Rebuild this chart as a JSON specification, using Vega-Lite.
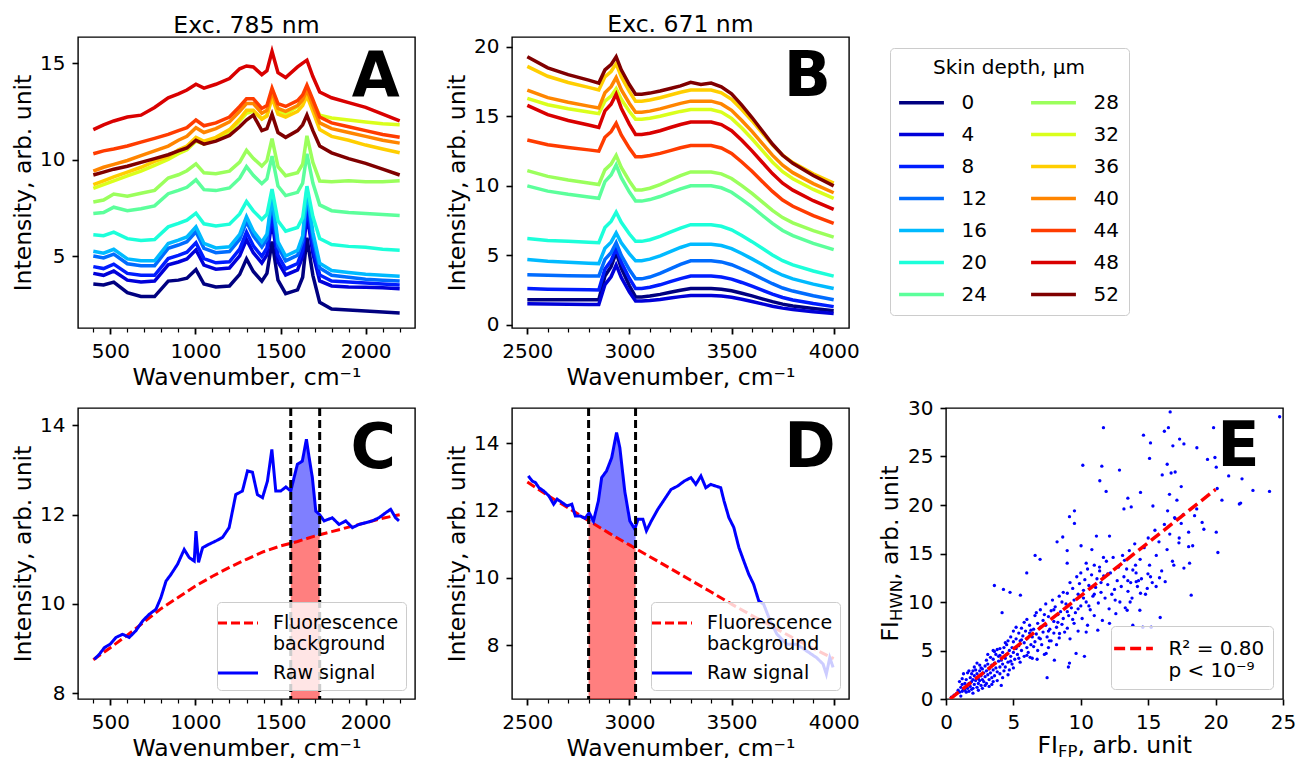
{
"$schema":"https://vega.github.io/schema/vega-lite/v6.json",
"background":"white",
"padding":{"left":10,"top":12,"right":5,"bottom":0},
"config":{
 "font":"DejaVu Sans",
 "view":{"stroke":"black","strokeWidth":1.4},
 "axis":{"labelFont":"DejaVu Sans","labelFontSize":20,"titleFont":"DejaVu Sans","titleFontSize":23.5,"titleFontWeight":"normal","labelColor":"black","titleColor":"black","tickColor":"black","tickSize":5,"tickWidth":1.3,"domain":false,"grid":false,"labelPadding":7,"titlePadding":4.5,"labelOverlap":false,"labelFlush":false},
 "legend":{"labelFont":"DejaVu Sans","titleFont":"DejaVu Sans","labelColor":"black","titleColor":"black"},
 "title":{"font":"DejaVu Sans","fontSize":23.5,"fontWeight":"normal","color":"black"}
},
"datasets":{
"A":[
{"d":0,"x":400,"y":3.55},{"d":0,"x":460,"y":3.5},{"d":0,"x":520,"y":3.65},{"d":0,"x":600,"y":3.1},{"d":0,"x":680,"y":2.9},{"d":0,"x":760,"y":2.9},{"d":0,"x":840,"y":3.7},{"d":0,"x":900,"y":3.75},{"d":0,"x":950,"y":3.85},{"d":0,"x":1003,"y":4.3},{"d":0,"x":1050,"y":3.55},{"d":0,"x":1120,"y":3.4},{"d":0,"x":1200,"y":3.45},{"d":0,"x":1260,"y":4.05},{"d":0,"x":1300,"y":4.85},{"d":0,"x":1340,"y":4.2},{"d":0,"x":1390,"y":3.7},{"d":0,"x":1420,"y":4.1},{"d":0,"x":1450,"y":5.75},{"d":0,"x":1485,"y":3.75},{"d":0,"x":1530,"y":3.05},{"d":0,"x":1600,"y":3.25},{"d":0,"x":1630,"y":3.9},{"d":0,"x":1655,"y":5.95},{"d":0,"x":1690,"y":4.0},{"d":0,"x":1730,"y":2.6},{"d":0,"x":1800,"y":2.25},{"d":0,"x":1900,"y":2.2},{"d":0,"x":2000,"y":2.15},{"d":0,"x":2100,"y":2.1},{"d":0,"x":2200,"y":2.05},
{"d":4,"x":400,"y":4.1},{"d":4,"x":460,"y":4.0},{"d":4,"x":520,"y":4.22},{"d":4,"x":600,"y":3.75},{"d":4,"x":680,"y":3.65},{"d":4,"x":760,"y":3.7},{"d":4,"x":840,"y":4.54},{"d":4,"x":900,"y":4.69},{"d":4,"x":950,"y":4.85},{"d":4,"x":1003,"y":5.32},{"d":4,"x":1050,"y":4.53},{"d":4,"x":1120,"y":4.32},{"d":4,"x":1200,"y":4.38},{"d":4,"x":1260,"y":5.01},{"d":4,"x":1300,"y":5.85},{"d":4,"x":1340,"y":5.17},{"d":4,"x":1390,"y":4.64},{"d":4,"x":1420,"y":5.06},{"d":4,"x":1450,"y":6.8},{"d":4,"x":1485,"y":4.7},{"d":4,"x":1530,"y":4.02},{"d":4,"x":1600,"y":4.28},{"d":4,"x":1630,"y":4.97},{"d":4,"x":1655,"y":7.17},{"d":4,"x":1690,"y":5.13},{"d":4,"x":1730,"y":3.71},{"d":4,"x":1800,"y":3.45},{"d":4,"x":1900,"y":3.4},{"d":4,"x":2000,"y":3.38},{"d":4,"x":2100,"y":3.35},{"d":4,"x":2200,"y":3.3},
{"d":8,"x":400,"y":4.45},{"d":8,"x":460,"y":4.35},{"d":8,"x":520,"y":4.58},{"d":8,"x":600,"y":4.1},{"d":8,"x":680,"y":4.0},{"d":8,"x":760,"y":4.0},{"d":8,"x":840,"y":4.87},{"d":8,"x":900,"y":5.03},{"d":8,"x":950,"y":5.2},{"d":8,"x":1003,"y":5.69},{"d":8,"x":1050,"y":4.87},{"d":8,"x":1120,"y":4.65},{"d":8,"x":1200,"y":4.7},{"d":8,"x":1260,"y":5.36},{"d":8,"x":1300,"y":6.24},{"d":8,"x":1340,"y":5.53},{"d":8,"x":1390,"y":4.98},{"d":8,"x":1420,"y":5.42},{"d":8,"x":1450,"y":7.24},{"d":8,"x":1485,"y":5.04},{"d":8,"x":1530,"y":4.33},{"d":8,"x":1600,"y":4.61},{"d":8,"x":1630,"y":5.33},{"d":8,"x":1655,"y":7.64},{"d":8,"x":1690,"y":5.5},{"d":8,"x":1730,"y":4.02},{"d":8,"x":1800,"y":3.7},{"d":8,"x":1900,"y":3.65},{"d":8,"x":2000,"y":3.6},{"d":8,"x":2100,"y":3.55},{"d":8,"x":2200,"y":3.5},
{"d":12,"x":400,"y":5.0},{"d":12,"x":460,"y":4.9},{"d":12,"x":520,"y":5.1},{"d":12,"x":600,"y":4.6},{"d":12,"x":680,"y":4.5},{"d":12,"x":760,"y":4.5},{"d":12,"x":840,"y":5.4},{"d":12,"x":900,"y":5.57},{"d":12,"x":950,"y":5.74},{"d":12,"x":1003,"y":6.26},{"d":12,"x":1050,"y":5.4},{"d":12,"x":1120,"y":5.17},{"d":12,"x":1200,"y":5.23},{"d":12,"x":1260,"y":5.87},{"d":12,"x":1300,"y":6.79},{"d":12,"x":1340,"y":6.05},{"d":12,"x":1390,"y":5.47},{"d":12,"x":1420,"y":5.88},{"d":12,"x":1450,"y":7.84},{"d":12,"x":1485,"y":5.49},{"d":12,"x":1530,"y":4.75},{"d":12,"x":1600,"y":5.04},{"d":12,"x":1630,"y":5.8},{"d":12,"x":1655,"y":8.21},{"d":12,"x":1690,"y":5.98},{"d":12,"x":1730,"y":4.38},{"d":12,"x":1800,"y":4.0},{"d":12,"x":1900,"y":3.9},{"d":12,"x":2000,"y":3.8},{"d":12,"x":2100,"y":3.75},{"d":12,"x":2200,"y":3.7},
{"d":16,"x":400,"y":5.25},{"d":16,"x":460,"y":5.15},{"d":16,"x":520,"y":5.35},{"d":16,"x":600,"y":4.85},{"d":16,"x":680,"y":4.75},{"d":16,"x":760,"y":4.75},{"d":16,"x":840,"y":5.65},{"d":16,"x":900,"y":5.82},{"d":16,"x":950,"y":5.99},{"d":16,"x":1003,"y":6.51},{"d":16,"x":1050,"y":5.65},{"d":16,"x":1120,"y":5.42},{"d":16,"x":1200,"y":5.48},{"d":16,"x":1260,"y":6.12},{"d":16,"x":1300,"y":7.04},{"d":16,"x":1340,"y":6.3},{"d":16,"x":1390,"y":5.72},{"d":16,"x":1420,"y":6.13},{"d":16,"x":1450,"y":8.09},{"d":16,"x":1485,"y":5.74},{"d":16,"x":1530,"y":5.0},{"d":16,"x":1600,"y":5.29},{"d":16,"x":1630,"y":6.05},{"d":16,"x":1655,"y":8.46},{"d":16,"x":1690,"y":6.23},{"d":16,"x":1730,"y":4.63},{"d":16,"x":1800,"y":4.25},{"d":16,"x":1900,"y":4.15},{"d":16,"x":2000,"y":4.05},{"d":16,"x":2100,"y":4.0},{"d":16,"x":2200,"y":3.95},
{"d":20,"x":400,"y":6.1},{"d":20,"x":460,"y":6.05},{"d":20,"x":520,"y":6.24},{"d":20,"x":600,"y":5.9},{"d":20,"x":680,"y":5.8},{"d":20,"x":760,"y":5.85},{"d":20,"x":840,"y":6.51},{"d":20,"x":900,"y":6.69},{"d":20,"x":950,"y":6.86},{"d":20,"x":1003,"y":7.22},{"d":20,"x":1050,"y":6.67},{"d":20,"x":1120,"y":6.56},{"d":20,"x":1200,"y":6.65},{"d":20,"x":1260,"y":7.18},{"d":20,"x":1300,"y":7.82},{"d":20,"x":1340,"y":7.34},{"d":20,"x":1390,"y":6.89},{"d":20,"x":1420,"y":7.16},{"d":20,"x":1450,"y":8.47},{"d":20,"x":1485,"y":6.82},{"d":20,"x":1530,"y":6.29},{"d":20,"x":1600,"y":6.48},{"d":20,"x":1630,"y":6.99},{"d":20,"x":1655,"y":8.62},{"d":20,"x":1690,"y":7.05},{"d":20,"x":1730,"y":5.91},{"d":20,"x":1800,"y":5.6},{"d":20,"x":1900,"y":5.5},{"d":20,"x":2000,"y":5.45},{"d":20,"x":2100,"y":5.35},{"d":20,"x":2200,"y":5.3},
{"d":24,"x":400,"y":7.2},{"d":24,"x":460,"y":7.25},{"d":24,"x":520,"y":7.53},{"d":24,"x":600,"y":7.35},{"d":24,"x":680,"y":7.45},{"d":24,"x":760,"y":7.6},{"d":24,"x":840,"y":8.23},{"d":24,"x":900,"y":8.4},{"d":24,"x":950,"y":8.56},{"d":24,"x":1003,"y":8.95},{"d":24,"x":1050,"y":8.44},{"d":24,"x":1120,"y":8.39},{"d":24,"x":1200,"y":8.53},{"d":24,"x":1260,"y":9.03},{"d":24,"x":1300,"y":9.63},{"d":24,"x":1340,"y":9.18},{"d":24,"x":1390,"y":8.75},{"d":24,"x":1420,"y":9.0},{"d":24,"x":1450,"y":10.18},{"d":24,"x":1485,"y":8.63},{"d":24,"x":1530,"y":8.13},{"d":24,"x":1600,"y":8.3},{"d":24,"x":1630,"y":8.78},{"d":24,"x":1655,"y":10.3},{"d":24,"x":1690,"y":8.78},{"d":24,"x":1730,"y":7.65},{"d":24,"x":1800,"y":7.35},{"d":24,"x":1900,"y":7.25},{"d":24,"x":2000,"y":7.2},{"d":24,"x":2100,"y":7.15},{"d":24,"x":2200,"y":7.1},
{"d":28,"x":400,"y":7.8},{"d":28,"x":460,"y":7.9},{"d":28,"x":520,"y":8.21},{"d":28,"x":600,"y":8.1},{"d":28,"x":680,"y":8.25},{"d":28,"x":760,"y":8.4},{"d":28,"x":840,"y":9.04},{"d":28,"x":900,"y":9.21},{"d":28,"x":950,"y":9.42},{"d":28,"x":1003,"y":9.78},{"d":28,"x":1050,"y":9.31},{"d":28,"x":1120,"y":9.27},{"d":28,"x":1200,"y":9.4},{"d":28,"x":1260,"y":9.87},{"d":28,"x":1300,"y":10.48},{"d":28,"x":1340,"y":10.06},{"d":28,"x":1390,"y":9.66},{"d":28,"x":1420,"y":9.94},{"d":28,"x":1450,"y":11.08},{"d":28,"x":1485,"y":9.63},{"d":28,"x":1530,"y":9.16},{"d":28,"x":1600,"y":9.32},{"d":28,"x":1630,"y":9.76},{"d":28,"x":1655,"y":11.23},{"d":28,"x":1690,"y":9.85},{"d":28,"x":1730,"y":8.89},{"d":28,"x":1800,"y":8.85},{"d":28,"x":1900,"y":8.9},{"d":28,"x":2000,"y":8.85},{"d":28,"x":2100,"y":8.85},{"d":28,"x":2200,"y":8.9},
{"d":32,"x":400,"y":8.5},{"d":32,"x":460,"y":8.7},{"d":32,"x":520,"y":8.9},{"d":32,"x":600,"y":9.15},{"d":32,"x":680,"y":9.4},{"d":32,"x":760,"y":9.7},{"d":32,"x":840,"y":10.0},{"d":32,"x":900,"y":10.3},{"d":32,"x":950,"y":10.5},{"d":32,"x":1003,"y":10.95},{"d":32,"x":1050,"y":10.8},{"d":32,"x":1120,"y":11.05},{"d":32,"x":1200,"y":11.45},{"d":32,"x":1260,"y":12.0},{"d":32,"x":1300,"y":12.4},{"d":32,"x":1340,"y":12.5},{"d":32,"x":1390,"y":12.1},{"d":32,"x":1420,"y":12.3},{"d":32,"x":1450,"y":13.3},{"d":32,"x":1485,"y":12.5},{"d":32,"x":1530,"y":12.35},{"d":32,"x":1600,"y":12.75},{"d":32,"x":1630,"y":13.1},{"d":32,"x":1655,"y":13.65},{"d":32,"x":1690,"y":13.0},{"d":32,"x":1730,"y":12.3},{"d":32,"x":1800,"y":12.15},{"d":32,"x":1900,"y":12.05},{"d":32,"x":2000,"y":11.95},{"d":32,"x":2100,"y":11.85},{"d":32,"x":2200,"y":11.8},
{"d":36,"x":400,"y":8.7},{"d":36,"x":460,"y":8.9},{"d":36,"x":520,"y":9.1},{"d":36,"x":600,"y":9.35},{"d":36,"x":680,"y":9.6},{"d":36,"x":760,"y":9.9},{"d":36,"x":840,"y":10.15},{"d":36,"x":900,"y":10.5},{"d":36,"x":950,"y":10.7},{"d":36,"x":1003,"y":11.15},{"d":36,"x":1050,"y":10.95},{"d":36,"x":1120,"y":11.15},{"d":36,"x":1200,"y":11.55},{"d":36,"x":1260,"y":12.1},{"d":36,"x":1300,"y":12.55},{"d":36,"x":1340,"y":12.55},{"d":36,"x":1390,"y":12.1},{"d":36,"x":1420,"y":12.25},{"d":36,"x":1450,"y":13.2},{"d":36,"x":1485,"y":12.35},{"d":36,"x":1530,"y":12.2},{"d":36,"x":1600,"y":12.5},{"d":36,"x":1630,"y":12.8},{"d":36,"x":1655,"y":13.3},{"d":36,"x":1690,"y":12.5},{"d":36,"x":1730,"y":11.55},{"d":36,"x":1800,"y":11.2},{"d":36,"x":1900,"y":11.0},{"d":36,"x":2000,"y":10.75},{"d":36,"x":2100,"y":10.55},{"d":36,"x":2200,"y":10.35},
{"d":40,"x":400,"y":9.4},{"d":40,"x":460,"y":9.6},{"d":40,"x":520,"y":9.75},{"d":40,"x":600,"y":9.95},{"d":40,"x":680,"y":10.2},{"d":40,"x":760,"y":10.45},{"d":40,"x":840,"y":10.7},{"d":40,"x":900,"y":11.0},{"d":40,"x":950,"y":11.2},{"d":40,"x":1003,"y":11.65},{"d":40,"x":1050,"y":11.4},{"d":40,"x":1120,"y":11.6},{"d":40,"x":1200,"y":11.95},{"d":40,"x":1260,"y":12.5},{"d":40,"x":1300,"y":12.9},{"d":40,"x":1340,"y":12.9},{"d":40,"x":1390,"y":12.4},{"d":40,"x":1420,"y":12.55},{"d":40,"x":1450,"y":13.5},{"d":40,"x":1485,"y":12.65},{"d":40,"x":1530,"y":12.5},{"d":40,"x":1600,"y":12.8},{"d":40,"x":1630,"y":13.1},{"d":40,"x":1655,"y":13.6},{"d":40,"x":1690,"y":12.8},{"d":40,"x":1730,"y":11.9},{"d":40,"x":1800,"y":11.6},{"d":40,"x":1900,"y":11.4},{"d":40,"x":2000,"y":11.2},{"d":40,"x":2100,"y":11.0},{"d":40,"x":2200,"y":10.85},
{"d":44,"x":400,"y":10.3},{"d":44,"x":460,"y":10.45},{"d":44,"x":520,"y":10.55},{"d":44,"x":600,"y":10.7},{"d":44,"x":680,"y":10.9},{"d":44,"x":760,"y":11.1},{"d":44,"x":840,"y":11.3},{"d":44,"x":900,"y":11.5},{"d":44,"x":950,"y":11.65},{"d":44,"x":1003,"y":12.05},{"d":44,"x":1050,"y":11.75},{"d":44,"x":1120,"y":11.9},{"d":44,"x":1200,"y":12.2},{"d":44,"x":1260,"y":12.75},{"d":44,"x":1300,"y":13.15},{"d":44,"x":1340,"y":13.15},{"d":44,"x":1390,"y":12.65},{"d":44,"x":1420,"y":12.8},{"d":44,"x":1450,"y":13.7},{"d":44,"x":1485,"y":12.9},{"d":44,"x":1530,"y":12.75},{"d":44,"x":1600,"y":13.05},{"d":44,"x":1630,"y":13.35},{"d":44,"x":1655,"y":13.85},{"d":44,"x":1690,"y":13.1},{"d":44,"x":1730,"y":12.2},{"d":44,"x":1800,"y":11.9},{"d":44,"x":1900,"y":11.7},{"d":44,"x":2000,"y":11.5},{"d":44,"x":2100,"y":11.3},{"d":44,"x":2200,"y":11.15},
{"d":48,"x":400,"y":11.55},{"d":48,"x":460,"y":11.8},{"d":48,"x":520,"y":12.0},{"d":48,"x":600,"y":12.2},{"d":48,"x":680,"y":12.3},{"d":48,"x":760,"y":12.7},{"d":48,"x":840,"y":13.2},{"d":48,"x":900,"y":13.4},{"d":48,"x":950,"y":13.6},{"d":48,"x":1003,"y":13.9},{"d":48,"x":1050,"y":13.7},{"d":48,"x":1120,"y":13.9},{"d":48,"x":1200,"y":14.2},{"d":48,"x":1260,"y":14.7},{"d":48,"x":1300,"y":14.85},{"d":48,"x":1340,"y":14.8},{"d":48,"x":1390,"y":14.4},{"d":48,"x":1420,"y":14.6},{"d":48,"x":1450,"y":15.6},{"d":48,"x":1485,"y":14.5},{"d":48,"x":1530,"y":14.25},{"d":48,"x":1600,"y":14.8},{"d":48,"x":1630,"y":15.0},{"d":48,"x":1655,"y":15.15},{"d":48,"x":1690,"y":14.3},{"d":48,"x":1730,"y":13.5},{"d":48,"x":1800,"y":13.2},{"d":48,"x":1900,"y":12.95},{"d":48,"x":2000,"y":12.7},{"d":48,"x":2100,"y":12.35},{"d":48,"x":2200,"y":12.0},
{"d":52,"x":400,"y":9.2},{"d":52,"x":460,"y":9.35},{"d":52,"x":520,"y":9.5},{"d":52,"x":600,"y":9.65},{"d":52,"x":680,"y":9.85},{"d":52,"x":760,"y":10.05},{"d":52,"x":840,"y":10.25},{"d":52,"x":900,"y":10.45},{"d":52,"x":950,"y":10.6},{"d":52,"x":1003,"y":11.0},{"d":52,"x":1050,"y":10.8},{"d":52,"x":1120,"y":10.95},{"d":52,"x":1200,"y":11.25},{"d":52,"x":1260,"y":11.7},{"d":52,"x":1300,"y":12.05},{"d":52,"x":1340,"y":12.3},{"d":52,"x":1390,"y":11.5},{"d":52,"x":1420,"y":11.6},{"d":52,"x":1450,"y":12.35},{"d":52,"x":1485,"y":11.4},{"d":52,"x":1530,"y":11.15},{"d":52,"x":1600,"y":11.5},{"d":52,"x":1630,"y":11.8},{"d":52,"x":1655,"y":12.3},{"d":52,"x":1690,"y":11.5},{"d":52,"x":1730,"y":10.7},{"d":52,"x":1800,"y":10.35},{"d":52,"x":1900,"y":10.05},{"d":52,"x":2000,"y":9.8},{"d":52,"x":2100,"y":9.5},{"d":52,"x":2200,"y":9.2}
],
"B":[
{"d":0,"x":2500,"y":1.8},{"d":0,"x":2600,"y":1.8},{"d":0,"x":2700,"y":1.8},{"d":0,"x":2800,"y":1.8},{"d":0,"x":2850,"y":1.8},{"d":0,"x":2880,"y":3.5},{"d":0,"x":2910,"y":4.18},{"d":0,"x":2935,"y":5.2},{"d":0,"x":2960,"y":4.08},{"d":0,"x":3000,"y":2.8},{"d":0,"x":3030,"y":2.0},{"d":0,"x":3060,"y":2.0},{"d":0,"x":3100,"y":2.06},{"d":0,"x":3150,"y":2.18},{"d":0,"x":3200,"y":2.33},{"d":0,"x":3250,"y":2.48},{"d":0,"x":3300,"y":2.6},{"d":0,"x":3350,"y":2.6},{"d":0,"x":3400,"y":2.6},{"d":0,"x":3450,"y":2.55},{"d":0,"x":3500,"y":2.44},{"d":0,"x":3550,"y":2.26},{"d":0,"x":3600,"y":2.07},{"d":0,"x":3650,"y":1.86},{"d":0,"x":3700,"y":1.66},{"d":0,"x":3750,"y":1.48},{"d":0,"x":3800,"y":1.35},{"d":0,"x":3900,"y":1.16},{"d":0,"x":4000,"y":1.0},
{"d":4,"x":2500,"y":1.5},{"d":4,"x":2600,"y":1.48},{"d":4,"x":2700,"y":1.47},{"d":4,"x":2800,"y":1.46},{"d":4,"x":2850,"y":1.45},{"d":4,"x":2880,"y":2.88},{"d":4,"x":2910,"y":3.45},{"d":4,"x":2935,"y":4.3},{"d":4,"x":2960,"y":3.39},{"d":4,"x":3000,"y":2.35},{"d":4,"x":3030,"y":1.7},{"d":4,"x":3060,"y":1.7},{"d":4,"x":3100,"y":1.74},{"d":4,"x":3150,"y":1.82},{"d":4,"x":3200,"y":1.92},{"d":4,"x":3250,"y":2.02},{"d":4,"x":3300,"y":2.1},{"d":4,"x":3350,"y":2.1},{"d":4,"x":3400,"y":2.1},{"d":4,"x":3450,"y":2.06},{"d":4,"x":3500,"y":1.97},{"d":4,"x":3550,"y":1.83},{"d":4,"x":3600,"y":1.67},{"d":4,"x":3650,"y":1.5},{"d":4,"x":3700,"y":1.33},{"d":4,"x":3750,"y":1.19},{"d":4,"x":3800,"y":1.09},{"d":4,"x":3900,"y":0.93},{"d":4,"x":4000,"y":0.8},
{"d":8,"x":2500,"y":2.6},{"d":8,"x":2600,"y":2.56},{"d":8,"x":2700,"y":2.53},{"d":8,"x":2800,"y":2.51},{"d":8,"x":2850,"y":2.5},{"d":8,"x":2880,"y":4.0},{"d":8,"x":2910,"y":4.6},{"d":8,"x":2935,"y":5.5},{"d":8,"x":2960,"y":4.49},{"d":8,"x":3000,"y":3.33},{"d":8,"x":3030,"y":2.6},{"d":8,"x":3060,"y":2.6},{"d":8,"x":3100,"y":2.69},{"d":8,"x":3150,"y":2.87},{"d":8,"x":3200,"y":3.1},{"d":8,"x":3250,"y":3.32},{"d":8,"x":3300,"y":3.5},{"d":8,"x":3350,"y":3.5},{"d":8,"x":3400,"y":3.5},{"d":8,"x":3450,"y":3.43},{"d":8,"x":3500,"y":3.28},{"d":8,"x":3550,"y":3.04},{"d":8,"x":3600,"y":2.77},{"d":8,"x":3650,"y":2.49},{"d":8,"x":3700,"y":2.2},{"d":8,"x":3750,"y":1.96},{"d":8,"x":3800,"y":1.78},{"d":8,"x":3900,"y":1.52},{"d":8,"x":4000,"y":1.3},
{"d":12,"x":2500,"y":3.6},{"d":12,"x":2600,"y":3.56},{"d":12,"x":2700,"y":3.53},{"d":12,"x":2800,"y":3.51},{"d":12,"x":2850,"y":3.5},{"d":12,"x":2880,"y":4.7},{"d":12,"x":2910,"y":5.18},{"d":12,"x":2935,"y":5.9},{"d":12,"x":2960,"y":4.99},{"d":12,"x":3000,"y":3.95},{"d":12,"x":3030,"y":3.3},{"d":12,"x":3060,"y":3.3},{"d":12,"x":3100,"y":3.43},{"d":12,"x":3150,"y":3.69},{"d":12,"x":3200,"y":4.02},{"d":12,"x":3250,"y":4.34},{"d":12,"x":3300,"y":4.6},{"d":12,"x":3350,"y":4.6},{"d":12,"x":3400,"y":4.6},{"d":12,"x":3450,"y":4.52},{"d":12,"x":3500,"y":4.32},{"d":12,"x":3550,"y":4.01},{"d":12,"x":3600,"y":3.68},{"d":12,"x":3650,"y":3.31},{"d":12,"x":3700,"y":2.95},{"d":12,"x":3750,"y":2.64},{"d":12,"x":3800,"y":2.42},{"d":12,"x":3900,"y":2.08},{"d":12,"x":4000,"y":1.8},
{"d":16,"x":2500,"y":4.7},{"d":16,"x":2600,"y":4.57},{"d":16,"x":2700,"y":4.5},{"d":16,"x":2800,"y":4.43},{"d":16,"x":2850,"y":4.4},{"d":16,"x":2880,"y":5.5},{"d":16,"x":2910,"y":5.94},{"d":16,"x":2935,"y":6.6},{"d":16,"x":2960,"y":5.9},{"d":16,"x":3000,"y":5.1},{"d":16,"x":3030,"y":4.6},{"d":16,"x":3060,"y":4.6},{"d":16,"x":3100,"y":4.72},{"d":16,"x":3150,"y":4.96},{"d":16,"x":3200,"y":5.26},{"d":16,"x":3250,"y":5.56},{"d":16,"x":3300,"y":5.8},{"d":16,"x":3350,"y":5.8},{"d":16,"x":3400,"y":5.8},{"d":16,"x":3450,"y":5.7},{"d":16,"x":3500,"y":5.48},{"d":16,"x":3550,"y":5.13},{"d":16,"x":3600,"y":4.74},{"d":16,"x":3650,"y":4.33},{"d":16,"x":3700,"y":3.91},{"d":16,"x":3750,"y":3.56},{"d":16,"x":3800,"y":3.3},{"d":16,"x":3900,"y":2.92},{"d":16,"x":4000,"y":2.6},
{"d":20,"x":2500,"y":6.2},{"d":20,"x":2600,"y":6.07},{"d":20,"x":2700,"y":6.0},{"d":20,"x":2800,"y":5.93},{"d":20,"x":2850,"y":5.9},{"d":20,"x":2880,"y":7.0},{"d":20,"x":2910,"y":7.44},{"d":20,"x":2935,"y":8.1},{"d":20,"x":2960,"y":7.37},{"d":20,"x":3000,"y":6.53},{"d":20,"x":3030,"y":6.0},{"d":20,"x":3060,"y":6.0},{"d":20,"x":3100,"y":6.12},{"d":20,"x":3150,"y":6.36},{"d":20,"x":3200,"y":6.66},{"d":20,"x":3250,"y":6.96},{"d":20,"x":3300,"y":7.2},{"d":20,"x":3350,"y":7.2},{"d":20,"x":3400,"y":7.2},{"d":20,"x":3450,"y":7.09},{"d":20,"x":3500,"y":6.83},{"d":20,"x":3550,"y":6.42},{"d":20,"x":3600,"y":5.98},{"d":20,"x":3650,"y":5.5},{"d":20,"x":3700,"y":5.02},{"d":20,"x":3750,"y":4.61},{"d":20,"x":3800,"y":4.31},{"d":20,"x":3900,"y":3.87},{"d":20,"x":4000,"y":3.5},
{"d":24,"x":2500,"y":10.0},{"d":24,"x":2600,"y":9.62},{"d":24,"x":2700,"y":9.39},{"d":24,"x":2800,"y":9.2},{"d":24,"x":2850,"y":9.1},{"d":24,"x":2880,"y":10.3},{"d":24,"x":2910,"y":10.78},{"d":24,"x":2935,"y":11.5},{"d":24,"x":2960,"y":10.59},{"d":24,"x":3000,"y":9.55},{"d":24,"x":3030,"y":8.9},{"d":24,"x":3060,"y":8.9},{"d":24,"x":3100,"y":9.01},{"d":24,"x":3150,"y":9.23},{"d":24,"x":3200,"y":9.51},{"d":24,"x":3250,"y":9.78},{"d":24,"x":3300,"y":10.0},{"d":24,"x":3350,"y":10.0},{"d":24,"x":3400,"y":10.0},{"d":24,"x":3450,"y":9.86},{"d":24,"x":3500,"y":9.54},{"d":24,"x":3550,"y":9.03},{"d":24,"x":3600,"y":8.48},{"d":24,"x":3650,"y":7.88},{"d":24,"x":3700,"y":7.29},{"d":24,"x":3750,"y":6.78},{"d":24,"x":3800,"y":6.41},{"d":24,"x":3900,"y":5.86},{"d":24,"x":4000,"y":5.4},
{"d":28,"x":2500,"y":11.1},{"d":28,"x":2600,"y":10.68},{"d":28,"x":2700,"y":10.42},{"d":28,"x":2800,"y":10.21},{"d":28,"x":2850,"y":10.1},{"d":28,"x":2880,"y":11.15},{"d":28,"x":2910,"y":11.57},{"d":28,"x":2935,"y":12.2},{"d":28,"x":2960,"y":11.33},{"d":28,"x":3000,"y":10.33},{"d":28,"x":3030,"y":9.7},{"d":28,"x":3060,"y":9.7},{"d":28,"x":3100,"y":9.83},{"d":28,"x":3150,"y":10.09},{"d":28,"x":3200,"y":10.42},{"d":28,"x":3250,"y":10.74},{"d":28,"x":3300,"y":11.0},{"d":28,"x":3350,"y":11.0},{"d":28,"x":3400,"y":11.0},{"d":28,"x":3450,"y":10.86},{"d":28,"x":3500,"y":10.53},{"d":28,"x":3550,"y":10.01},{"d":28,"x":3600,"y":9.45},{"d":28,"x":3650,"y":8.84},{"d":28,"x":3700,"y":8.23},{"d":28,"x":3750,"y":7.71},{"d":28,"x":3800,"y":7.33},{"d":28,"x":3900,"y":6.77},{"d":28,"x":4000,"y":6.3},
{"d":32,"x":2500,"y":16.3},{"d":32,"x":2600,"y":15.84},{"d":32,"x":2700,"y":15.55},{"d":32,"x":2800,"y":15.32},{"d":32,"x":2850,"y":15.2},{"d":32,"x":2880,"y":16.1},{"d":32,"x":2910,"y":16.46},{"d":32,"x":2935,"y":17.0},{"d":32,"x":2960,"y":16.23},{"d":32,"x":3000,"y":15.35},{"d":32,"x":3030,"y":14.8},{"d":32,"x":3060,"y":14.8},{"d":32,"x":3100,"y":14.87},{"d":32,"x":3150,"y":15.01},{"d":32,"x":3200,"y":15.19},{"d":32,"x":3250,"y":15.36},{"d":32,"x":3300,"y":15.5},{"d":32,"x":3350,"y":15.5},{"d":32,"x":3400,"y":15.5},{"d":32,"x":3450,"y":15.31},{"d":32,"x":3500,"y":14.86},{"d":32,"x":3550,"y":14.16},{"d":32,"x":3600,"y":13.39},{"d":32,"x":3650,"y":12.56},{"d":32,"x":3700,"y":11.72},{"d":32,"x":3750,"y":11.02},{"d":32,"x":3800,"y":10.51},{"d":32,"x":3900,"y":9.74},{"d":32,"x":4000,"y":9.1},
{"d":36,"x":2500,"y":18.6},{"d":36,"x":2600,"y":17.89},{"d":36,"x":2700,"y":17.44},{"d":36,"x":2800,"y":17.09},{"d":36,"x":2850,"y":16.9},{"d":36,"x":2880,"y":17.85},{"d":36,"x":2910,"y":18.23},{"d":36,"x":2935,"y":18.8},{"d":36,"x":2960,"y":17.86},{"d":36,"x":3000,"y":16.78},{"d":36,"x":3030,"y":16.1},{"d":36,"x":3060,"y":16.1},{"d":36,"x":3100,"y":16.18},{"d":36,"x":3150,"y":16.34},{"d":36,"x":3200,"y":16.54},{"d":36,"x":3250,"y":16.74},{"d":36,"x":3300,"y":16.9},{"d":36,"x":3350,"y":16.9},{"d":36,"x":3400,"y":16.9},{"d":36,"x":3450,"y":16.7},{"d":36,"x":3500,"y":16.23},{"d":36,"x":3550,"y":15.49},{"d":36,"x":3600,"y":14.69},{"d":36,"x":3650,"y":13.82},{"d":36,"x":3700,"y":12.95},{"d":36,"x":3750,"y":12.21},{"d":36,"x":3800,"y":11.67},{"d":36,"x":3900,"y":10.87},{"d":36,"x":4000,"y":10.2},
{"d":40,"x":2500,"y":16.9},{"d":40,"x":2600,"y":16.35},{"d":40,"x":2700,"y":16.02},{"d":40,"x":2800,"y":15.74},{"d":40,"x":2850,"y":15.6},{"d":40,"x":2880,"y":16.7},{"d":40,"x":2910,"y":17.14},{"d":40,"x":2935,"y":17.8},{"d":40,"x":2960,"y":16.93},{"d":40,"x":3000,"y":15.93},{"d":40,"x":3030,"y":15.3},{"d":40,"x":3060,"y":15.3},{"d":40,"x":3100,"y":15.38},{"d":40,"x":3150,"y":15.54},{"d":40,"x":3200,"y":15.74},{"d":40,"x":3250,"y":15.94},{"d":40,"x":3300,"y":16.1},{"d":40,"x":3350,"y":16.1},{"d":40,"x":3400,"y":16.1},{"d":40,"x":3450,"y":15.9},{"d":40,"x":3500,"y":15.44},{"d":40,"x":3550,"y":14.71},{"d":40,"x":3600,"y":13.92},{"d":40,"x":3650,"y":13.06},{"d":40,"x":3700,"y":12.21},{"d":40,"x":3750,"y":11.48},{"d":40,"x":3800,"y":10.95},{"d":40,"x":3900,"y":10.16},{"d":40,"x":4000,"y":9.5},
{"d":44,"x":2500,"y":13.3},{"d":44,"x":2600,"y":12.96},{"d":44,"x":2700,"y":12.76},{"d":44,"x":2800,"y":12.59},{"d":44,"x":2850,"y":12.5},{"d":44,"x":2880,"y":13.5},{"d":44,"x":2910,"y":13.9},{"d":44,"x":2935,"y":14.5},{"d":44,"x":2960,"y":13.66},{"d":44,"x":3000,"y":12.7},{"d":44,"x":3030,"y":12.1},{"d":44,"x":3060,"y":12.1},{"d":44,"x":3100,"y":12.18},{"d":44,"x":3150,"y":12.34},{"d":44,"x":3200,"y":12.54},{"d":44,"x":3250,"y":12.74},{"d":44,"x":3300,"y":12.9},{"d":44,"x":3350,"y":12.9},{"d":44,"x":3400,"y":12.9},{"d":44,"x":3450,"y":12.73},{"d":44,"x":3500,"y":12.34},{"d":44,"x":3550,"y":11.72},{"d":44,"x":3600,"y":11.05},{"d":44,"x":3650,"y":10.32},{"d":44,"x":3700,"y":9.6},{"d":44,"x":3750,"y":8.98},{"d":44,"x":3800,"y":8.53},{"d":44,"x":3900,"y":7.86},{"d":44,"x":4000,"y":7.3},
{"d":48,"x":2500,"y":15.8},{"d":48,"x":2600,"y":15.13},{"d":48,"x":2700,"y":14.71},{"d":48,"x":2800,"y":14.38},{"d":48,"x":2850,"y":14.2},{"d":48,"x":2880,"y":15.4},{"d":48,"x":2910,"y":15.88},{"d":48,"x":2935,"y":16.6},{"d":48,"x":2960,"y":15.59},{"d":48,"x":3000,"y":14.43},{"d":48,"x":3030,"y":13.7},{"d":48,"x":3060,"y":13.7},{"d":48,"x":3100,"y":13.79},{"d":48,"x":3150,"y":13.97},{"d":48,"x":3200,"y":14.2},{"d":48,"x":3250,"y":14.42},{"d":48,"x":3300,"y":14.6},{"d":48,"x":3350,"y":14.6},{"d":48,"x":3400,"y":14.6},{"d":48,"x":3450,"y":14.41},{"d":48,"x":3500,"y":13.97},{"d":48,"x":3550,"y":13.28},{"d":48,"x":3600,"y":12.52},{"d":48,"x":3650,"y":11.7},{"d":48,"x":3700,"y":10.88},{"d":48,"x":3750,"y":10.19},{"d":48,"x":3800,"y":9.69},{"d":48,"x":3900,"y":8.93},{"d":48,"x":4000,"y":8.3},
{"d":52,"x":2500,"y":19.3},{"d":52,"x":2600,"y":18.5},{"d":52,"x":2700,"y":18.01},{"d":52,"x":2800,"y":17.61},{"d":52,"x":2850,"y":17.4},{"d":52,"x":2880,"y":18.35},{"d":52,"x":2910,"y":18.73},{"d":52,"x":2935,"y":19.3},{"d":52,"x":2960,"y":18.36},{"d":52,"x":3000,"y":17.28},{"d":52,"x":3030,"y":16.6},{"d":52,"x":3060,"y":16.6},{"d":52,"x":3100,"y":16.68},{"d":52,"x":3150,"y":16.83},{"d":52,"x":3200,"y":17.01},{"d":52,"x":3250,"y":17.2},{"d":52,"x":3300,"y":17.45},{"d":52,"x":3350,"y":17.3},{"d":52,"x":3400,"y":17.4},{"d":52,"x":3450,"y":17.13},{"d":52,"x":3500,"y":16.62},{"d":52,"x":3550,"y":15.81},{"d":52,"x":3600,"y":14.92},{"d":52,"x":3650,"y":13.97},{"d":52,"x":3700,"y":13.01},{"d":52,"x":3750,"y":12.2},{"d":52,"x":3800,"y":11.62},{"d":52,"x":3900,"y":10.74},{"d":52,"x":4000,"y":10.0}
],
"C":[
{"s":"bg","x":400,"y":8.75},{"s":"bg","x":500,"y":9.02},{"s":"bg","x":600,"y":9.3},{"s":"bg","x":700,"y":9.6},{"s":"bg","x":800,"y":9.9},{"s":"bg","x":900,"y":10.15},{"s":"bg","x":1000,"y":10.4},{"s":"bg","x":1100,"y":10.62},{"s":"bg","x":1200,"y":10.82},{"s":"bg","x":1300,"y":11.0},{"s":"bg","x":1400,"y":11.17},{"s":"bg","x":1500,"y":11.3},{"s":"bg","x":1600,"y":11.4},{"s":"bg","x":1700,"y":11.52},{"s":"bg","x":1800,"y":11.62},{"s":"bg","x":1900,"y":11.72},{"s":"bg","x":2000,"y":11.82},{"s":"bg","x":2100,"y":11.92},{"s":"bg","x":2200,"y":12.0},
{"s":"raw","x":406,"y":8.76},{"s":"raw","x":435,"y":8.87},{"s":"raw","x":465,"y":9.02},{"s":"raw","x":500,"y":9.1},{"s":"raw","x":533,"y":9.25},{"s":"raw","x":572,"y":9.32},{"s":"raw","x":611,"y":9.25},{"s":"raw","x":650,"y":9.4},{"s":"raw","x":690,"y":9.62},{"s":"raw","x":729,"y":9.77},{"s":"raw","x":768,"y":9.88},{"s":"raw","x":797,"y":10.14},{"s":"raw","x":827,"y":10.51},{"s":"raw","x":856,"y":10.66},{"s":"raw","x":895,"y":10.89},{"s":"raw","x":934,"y":11.22},{"s":"raw","x":963,"y":11.04},{"s":"raw","x":993,"y":10.96},{"s":"raw","x":1003,"y":11.63},{"s":"raw","x":1018,"y":10.93},{"s":"raw","x":1042,"y":11.26},{"s":"raw","x":1081,"y":11.34},{"s":"raw","x":1120,"y":11.41},{"s":"raw","x":1159,"y":11.49},{"s":"raw","x":1198,"y":11.71},{"s":"raw","x":1237,"y":12.45},{"s":"raw","x":1276,"y":12.53},{"s":"raw","x":1306,"y":12.98},{"s":"raw","x":1335,"y":12.95},{"s":"raw","x":1364,"y":12.45},{"s":"raw","x":1394,"y":12.38},{"s":"raw","x":1423,"y":12.75},{"s":"raw","x":1449,"y":13.46},{"s":"raw","x":1472,"y":12.53},{"s":"raw","x":1501,"y":12.53},{"s":"raw","x":1531,"y":12.62},{"s":"raw","x":1560,"y":12.53},{"s":"raw","x":1599,"y":13.13},{"s":"raw","x":1628,"y":13.2},{"s":"raw","x":1652,"y":13.69},{"s":"raw","x":1668,"y":13.28},{"s":"raw","x":1687,"y":12.83},{"s":"raw","x":1707,"y":12.08},{"s":"raw","x":1730,"y":12.0},{"s":"raw","x":1756,"y":11.86},{"s":"raw","x":1804,"y":11.93},{"s":"raw","x":1844,"y":11.78},{"s":"raw","x":1883,"y":11.86},{"s":"raw","x":1922,"y":11.71},{"s":"raw","x":1961,"y":11.78},{"s":"raw","x":2000,"y":11.82},{"s":"raw","x":2039,"y":11.86},{"s":"raw","x":2078,"y":11.93},{"s":"raw","x":2117,"y":12.04},{"s":"raw","x":2147,"y":12.12},{"s":"raw","x":2176,"y":11.93},{"s":"raw","x":2196,"y":11.86}
],
"Cfill":[
{"x":1560,"sig":12.53,"bg":11.35},{"x":1599,"sig":13.13,"bg":11.4},{"x":1628,"sig":13.2,"bg":11.43},{"x":1652,"sig":13.69,"bg":11.46},{"x":1668,"sig":13.28,"bg":11.48},{"x":1687,"sig":12.83,"bg":11.5},{"x":1707,"sig":12.08,"bg":11.53},{"x":1730,"sig":12.0,"bg":11.56}
],
"Crules":[{"x":1560},{"x":1730}],
"D":[
{"s":"bg","x":2500,"y":12.85},{"s":"bg","x":2600,"y":12.45},{"s":"bg","x":2700,"y":12.08},{"s":"bg","x":2800,"y":11.7},{"s":"bg","x":2900,"y":11.33},{"s":"bg","x":3000,"y":10.98},{"s":"bg","x":3100,"y":10.63},{"s":"bg","x":3200,"y":10.28},{"s":"bg","x":3300,"y":9.93},{"s":"bg","x":3400,"y":9.58},{"s":"bg","x":3500,"y":9.22},{"s":"bg","x":3600,"y":8.88},{"s":"bg","x":3700,"y":8.55},{"s":"bg","x":3800,"y":8.22},{"s":"bg","x":3900,"y":7.9},{"s":"bg","x":4000,"y":7.6},
{"s":"raw","x":2505,"y":13.03},{"s":"raw","x":2524,"y":12.88},{"s":"raw","x":2540,"y":12.83},{"s":"raw","x":2557,"y":12.68},{"s":"raw","x":2581,"y":12.58},{"s":"raw","x":2605,"y":12.44},{"s":"raw","x":2629,"y":12.19},{"s":"raw","x":2646,"y":12.34},{"s":"raw","x":2670,"y":12.24},{"s":"raw","x":2694,"y":12.14},{"s":"raw","x":2718,"y":12.19},{"s":"raw","x":2735,"y":11.84},{"s":"raw","x":2759,"y":11.84},{"s":"raw","x":2783,"y":11.77},{"s":"raw","x":2803,"y":11.94},{"s":"raw","x":2824,"y":11.69},{"s":"raw","x":2848,"y":12.29},{"s":"raw","x":2864,"y":12.98},{"s":"raw","x":2888,"y":13.18},{"s":"raw","x":2913,"y":13.57},{"s":"raw","x":2937,"y":14.32},{"s":"raw","x":2953,"y":13.87},{"s":"raw","x":2977,"y":12.58},{"s":"raw","x":3002,"y":11.69},{"s":"raw","x":3026,"y":11.45},{"s":"raw","x":3042,"y":11.74},{"s":"raw","x":3066,"y":11.74},{"s":"raw","x":3083,"y":11.4},{"s":"raw","x":3107,"y":11.69},{"s":"raw","x":3139,"y":12.04},{"s":"raw","x":3172,"y":12.34},{"s":"raw","x":3204,"y":12.63},{"s":"raw","x":3236,"y":12.73},{"s":"raw","x":3269,"y":12.88},{"s":"raw","x":3301,"y":12.98},{"s":"raw","x":3325,"y":12.78},{"s":"raw","x":3350,"y":13.03},{"s":"raw","x":3374,"y":12.68},{"s":"raw","x":3398,"y":12.78},{"s":"raw","x":3422,"y":12.73},{"s":"raw","x":3447,"y":12.68},{"s":"raw","x":3463,"y":12.29},{"s":"raw","x":3487,"y":11.79},{"s":"raw","x":3511,"y":11.5},{"s":"raw","x":3536,"y":10.9},{"s":"raw","x":3560,"y":10.5},{"s":"raw","x":3584,"y":10.11},{"s":"raw","x":3608,"y":9.81},{"s":"raw","x":3633,"y":9.32},{"s":"raw","x":3657,"y":9.22},{"s":"raw","x":3689,"y":8.72},{"s":"raw","x":3722,"y":8.33},{"s":"raw","x":3770,"y":8.03},{"s":"raw","x":3819,"y":8.03},{"s":"raw","x":3867,"y":7.83},{"s":"raw","x":3916,"y":7.63},{"s":"raw","x":3948,"y":7.44},{"s":"raw","x":3964,"y":7.14},{"s":"raw","x":3981,"y":7.63},{"s":"raw","x":3997,"y":7.34}
],
"Dfill":[
{"x":2800,"sig":11.9,"bg":11.7},{"x":2824,"sig":11.69,"bg":11.61},{"x":2848,"sig":12.29,"bg":11.53},{"x":2864,"sig":12.98,"bg":11.47},{"x":2888,"sig":13.18,"bg":11.37},{"x":2913,"sig":13.57,"bg":11.28},{"x":2937,"sig":14.32,"bg":11.2},{"x":2953,"sig":13.87,"bg":11.14},{"x":2977,"sig":12.58,"bg":11.06},{"x":3002,"sig":11.69,"bg":10.97},{"x":3026,"sig":11.45,"bg":10.89},{"x":3030,"sig":11.5,"bg":10.88}
],
"Drules":[{"x":2800},{"x":3030}],
"Eline":[{"f":"fit","x":0.3,"y":0},{"f":"fit","x":20,"y":21.6}],
"E":[
{"x":0.6,"y":0.4},{"x":0.8,"y":0.6},{"x":0.9,"y":0.9},{"x":1.0,"y":0.7},{"x":1.1,"y":1.2},{"x":1.2,"y":0.8},{"x":1.2,"y":1.5},{"x":1.3,"y":1.0},{"x":1.4,"y":1.6},{"x":1.4,"y":0.9},{"x":1.5,"y":1.3},{"x":1.5,"y":2.0},{"x":1.3,"y":2.6},{"x":1.6,"y":1.1},{"x":1.6,"y":2.7},{"x":1.7,"y":1.6},{"x":1.7,"y":0.8},{"x":1.8,"y":2.2},{"x":1.8,"y":1.3},{"x":1.9,"y":1.8},{"x":1.9,"y":2.6},{"x":2.0,"y":1.1},{"x":2.0,"y":2.0},{"x":2.0,"y":2.9},{"x":2.1,"y":1.5},{"x":2.1,"y":2.4},{"x":2.2,"y":1.9},{"x":2.2,"y":3.0},{"x":2.3,"y":1.2},{"x":2.3,"y":2.6},{"x":2.4,"y":2.1},{"x":2.4,"y":1.6},{"x":2.5,"y":2.9},{"x":2.5,"y":1.9},{"x":2.5,"y":3.5},{"x":2.6,"y":2.4},{"x":2.6,"y":1.4},{"x":2.7,"y":3.1},{"x":2.7,"y":2.0},{"x":2.8,"y":2.7},{"x":2.8,"y":1.8},{"x":2.9,"y":3.4},{"x":2.9,"y":2.3},{"x":3.0,"y":1.6},{"x":3.0,"y":2.9},{"x":3.0,"y":4.0},{"x":3.1,"y":2.5},{"x":3.1,"y":3.6},{"x":3.2,"y":2.0},{"x":3.2,"y":3.1},{"x":3.3,"y":4.3},{"x":3.3,"y":2.7},{"x":3.4,"y":3.5},{"x":3.4,"y":1.5},{"x":3.5,"y":5.0},{"x":3.5,"y":3.0},{"x":3.5,"y":4.1},{"x":3.6,"y":2.4},{"x":3.6,"y":3.7},{"x":3.7,"y":4.6},{"x":3.7,"y":3.2},{"x":3.8,"y":2.8},{"x":3.8,"y":5.1},{"x":3.9,"y":3.9},{"x":3.9,"y":4.4},{"x":4.0,"y":3.3},{"x":4.0,"y":5.2},{"x":4.0,"y":2.6},{"x":4.1,"y":4.0},{"x":4.1,"y":1.4},{"x":4.2,"y":4.8},{"x":4.2,"y":3.6},{"x":4.3,"y":5.3},{"x":4.3,"y":2.9},{"x":4.4,"y":4.2},{"x":4.4,"y":3.3},{"x":4.5,"y":5.6},{"x":4.5,"y":4.6},{"x":4.6,"y":3.8},{"x":4.6,"y":6.0},{"x":4.7,"y":5.0},{"x":4.7,"y":3.0},{"x":4.8,"y":4.4},{"x":4.8,"y":6.4},{"x":4.9,"y":5.3},{"x":4.9,"y":3.6},{"x":5.0,"y":4.8},{"x":5.0,"y":5.9},{"x":5.0,"y":7.0},{"x":5.1,"y":4.1},{"x":5.2,"y":6.2},{"x":5.2,"y":5.2},{"x":5.3,"y":4.6},{"x":5.4,"y":6.8},{"x":5.4,"y":5.5},{"x":5.5,"y":3.8},{"x":5.5,"y":6.0},{"x":5.6,"y":7.3},{"x":5.6,"y":5.0},{"x":5.7,"y":6.5},{"x":5.8,"y":4.4},{"x":5.8,"y":5.8},{"x":5.9,"y":7.0},{"x":6.0,"y":6.2},{"x":6.0,"y":5.3},{"x":6.0,"y":8.2},{"x":6.1,"y":4.8},{"x":6.2,"y":6.8},{"x":6.2,"y":7.6},{"x":6.3,"y":5.6},{"x":6.4,"y":6.4},{"x":6.4,"y":4.2},{"x":6.5,"y":7.2},{"x":6.6,"y":8.6},{"x":6.6,"y":5.9},{"x":6.7,"y":6.7},{"x":6.8,"y":7.8},{"x":6.8,"y":5.0},{"x":6.9,"y":6.3},{"x":7.0,"y":7.4},{"x":7.0,"y":9.2},{"x":7.1,"y":5.6},{"x":7.2,"y":8.1},{"x":7.2,"y":6.9},{"x":7.3,"y":4.6},{"x":7.4,"y":7.6},{"x":7.4,"y":9.8},{"x":7.5,"y":6.4},{"x":7.6,"y":8.5},{"x":7.6,"y":5.3},{"x":7.7,"y":7.2},{"x":7.8,"y":9.1},{"x":7.8,"y":6.0},{"x":7.9,"y":10.2},{"x":8.0,"y":8.0},{"x":8.0,"y":6.8},{"x":8.1,"y":9.5},{"x":8.2,"y":7.4},{"x":8.2,"y":5.6},{"x":8.3,"y":8.7},{"x":8.4,"y":10.6},{"x":8.4,"y":6.3},{"x":8.5,"y":9.0},{"x":8.6,"y":7.7},{"x":8.7,"y":11.0},{"x":8.7,"y":8.3},{"x":8.8,"y":6.9},{"x":8.9,"y":9.8},{"x":9.0,"y":7.3},{"x":9.0,"y":10.9},{"x":9.1,"y":8.6},{"x":9.2,"y":12.0},{"x":9.2,"y":6.2},{"x":9.3,"y":9.4},{"x":9.4,"y":11.4},{"x":9.5,"y":7.8},{"x":9.5,"y":10.2},{"x":9.6,"y":8.9},{"x":9.7,"y":12.6},{"x":9.8,"y":10.8},{"x":9.8,"y":7.0},{"x":9.9,"y":11.9},{"x":10.0,"y":9.6},{"x":10.0,"y":13.0},{"x":10.1,"y":8.3},{"x":10.2,"y":11.2},{"x":10.3,"y":12.3},{"x":10.4,"y":10.0},{"x":10.5,"y":7.6},{"x":10.5,"y":13.4},{"x":10.6,"y":11.7},{"x":10.7,"y":9.2},{"x":10.8,"y":12.8},{"x":10.9,"y":10.6},{"x":11.0,"y":13.8},{"x":11.0,"y":8.6},{"x":11.1,"y":11.5},{"x":11.2,"y":12.4},{"x":11.3,"y":9.9},{"x":11.4,"y":13.2},{"x":11.5,"y":11.0},{"x":11.6,"y":8.1},{"x":11.7,"y":12.7},{"x":11.8,"y":10.4},{"x":11.9,"y":14.2},{"x":12.0,"y":11.8},{"x":12.1,"y":9.3},{"x":12.2,"y":13.0},{"x":12.3,"y":10.8},{"x":12.4,"y":14.6},{"x":12.5,"y":11.3},{"x":12.6,"y":8.8},{"x":12.7,"y":12.2},{"x":12.8,"y":13.6},{"x":12.9,"y":10.0},{"x":13.0,"y":11.6},{"x":13.1,"y":14.8},{"x":13.2,"y":12.6},{"x":13.3,"y":9.4},{"x":13.4,"y":13.4},{"x":13.5,"y":11.1},{"x":13.6,"y":15.3},{"x":13.7,"y":12.0},{"x":13.8,"y":10.4},{"x":14.0,"y":16.0},{"x":14.1,"y":13.0},{"x":14.2,"y":11.6},{"x":14.4,"y":14.4},{"x":14.5,"y":12.4},{"x":14.7,"y":15.6},{"x":14.8,"y":10.8},{"x":15.0,"y":16.6},{"x":15.1,"y":13.8},{"x":15.3,"y":12.0},{"x":15.5,"y":17.4},{"x":15.6,"y":14.8},{"x":15.8,"y":16.2},{"x":16.0,"y":13.2},{"x":16.2,"y":18.0},{"x":16.4,"y":15.4},{"x":16.6,"y":17.0},{"x":16.8,"y":14.2},{"x":17.0,"y":18.6},{"x":17.3,"y":16.6},{"x":17.6,"y":19.0},{"x":18.0,"y":17.2},{"x":18.3,"y":15.8},{"x":18.6,"y":19.6},{"x":19.0,"y":18.2},
{"x":1.0,"y":1.8},{"x":1.2,"y":2.1},{"x":1.5,"y":0.7},{"x":1.7,"y":2.9},{"x":1.9,"y":1.0},{"x":2.1,"y":3.3},{"x":2.3,"y":3.7},{"x":2.4,"y":0.9},{"x":2.6,"y":3.2},{"x":2.7,"y":1.1},{"x":2.9,"y":1.4},{"x":3.1,"y":4.6},{"x":3.2,"y":1.3},{"x":3.4,"y":2.2},{"x":3.6,"y":4.9},{"x":3.8,"y":1.9},{"x":4.0,"y":4.5},{"x":4.2,"y":2.2},{"x":4.4,"y":5.8},{"x":4.6,"y":2.5},{"x":4.8,"y":3.9},{"x":5.0,"y":3.2},{"x":5.2,"y":7.4},{"x":5.4,"y":4.2},{"x":5.6,"y":6.1},{"x":5.8,"y":7.9},{"x":6.0,"y":4.5},{"x":6.3,"y":7.1},{"x":6.5,"y":5.4},{"x":6.7,"y":8.9},{"x":7.0,"y":6.2},{"x":7.3,"y":8.7},{"x":7.6,"y":7.0},{"x":8.0,"y":9.2},{"x":8.3,"y":7.9},{"x":8.6,"y":10.0},{"x":9.0,"y":9.0},{"x":9.4,"y":8.2},{"x":9.8,"y":9.3},{"x":10.2,"y":10.4},{"x":10.6,"y":9.6},{"x":11.0,"y":10.8},{"x":11.5,"y":12.0},{"x":12.0,"y":12.9},{"x":3.5,"y":1.8},{"x":2.0,"y":0.6},{"x":1.1,"y":0.3},{"x":0.4,"y":0.2},
{"x":24.75,"y":29.1},{"x":16.63,"y":29.6},{"x":11.68,"y":27.97},{"x":16.5,"y":27.97},{"x":19.85,"y":27.97},{"x":14.65,"y":27.2},{"x":15.17,"y":26.4},{"x":17.33,"y":26.8},{"x":17.65,"y":26.3},{"x":16.83,"y":26.1},{"x":16.2,"y":27.6},{"x":18.61,"y":25.9},{"x":19.4,"y":24.7},{"x":19.95,"y":24.9},{"x":20.05,"y":23.9},{"x":15.1,"y":24.8},{"x":10.15,"y":24.1},{"x":11.56,"y":24.0},{"x":12.87,"y":23.6},{"x":16.41,"y":24.2},{"x":16.7,"y":23.3},{"x":17.0,"y":23.4},{"x":16.04,"y":23.1},{"x":11.41,"y":22.5},{"x":20.97,"y":23.0},{"x":21.96,"y":22.7},{"x":20.12,"y":21.7},{"x":17.45,"y":21.9},{"x":22.77,"y":21.5},{"x":24.0,"y":21.4},{"x":21.86,"y":20.2},{"x":21.76,"y":20.1},{"x":20.47,"y":20.5},{"x":11.88,"y":21.4},{"x":14.43,"y":21.3},{"x":13.49,"y":20.7},{"x":13.74,"y":19.8},{"x":13.2,"y":19.6},{"x":15.35,"y":19.9},{"x":16.58,"y":21.1},{"x":17.13,"y":20.5},{"x":16.44,"y":19.4},{"x":16.96,"y":18.7},{"x":17.45,"y":18.1},{"x":18.44,"y":18.9},{"x":19.13,"y":17.5},{"x":20.05,"y":17.2},{"x":20.17,"y":15.1},{"x":17.28,"y":16.1},{"x":18.0,"y":15.7},{"x":16.9,"y":13.8},{"x":18.07,"y":14.0},{"x":17.65,"y":13.5},{"x":18.19,"y":10.7},{"x":15.89,"y":8.4},{"x":9.53,"y":19.4},{"x":9.16,"y":18.8},{"x":9.53,"y":18.1},{"x":8.66,"y":16.7},{"x":8.24,"y":16.2},{"x":6.61,"y":14.8},{"x":6.98,"y":14.4},{"x":3.59,"y":11.7},{"x":4.26,"y":11.3},{"x":4.75,"y":11.0},{"x":5.99,"y":13.0},{"x":5.52,"y":10.7},{"x":4.16,"y":8.9},{"x":8.99,"y":15.3},{"x":10.02,"y":15.8},{"x":8.99,"y":14.0},{"x":11.16,"y":16.8},{"x":12.13,"y":16.8},{"x":10.82,"y":15.4},{"x":11.68,"y":14.6},{"x":10.4,"y":14.0},{"x":11.39,"y":13.6},{"x":13.24,"y":14.3},{"x":13.86,"y":13.3},{"x":14.06,"y":13.8},{"x":13.49,"y":12.2},{"x":14.28,"y":12.2},{"x":14.98,"y":12.9},{"x":15.17,"y":12.6},{"x":15.84,"y":12.5},{"x":16.26,"y":12.1},{"x":14.93,"y":11.4},{"x":15.59,"y":11.6},{"x":14.43,"y":10.9},{"x":14.11,"y":12.1},{"x":12.55,"y":10.2},{"x":13.66,"y":10.0},{"x":14.38,"y":9.15},{"x":13.86,"y":7.6},{"x":14.6,"y":7.4},{"x":15.22,"y":7.4},{"x":13.44,"y":9.15},{"x":12.13,"y":7.8},{"x":11.26,"y":7.1},{"x":10.4,"y":6.9},{"x":9.65,"y":4.7},{"x":10.27,"y":4.4},{"x":9.16,"y":3.7},{"x":9.08,"y":3.3},{"x":7.5,"y":2.2},{"x":8.04,"y":4.0},{"x":7.43,"y":4.7},{"x":6.76,"y":4.1},{"x":6.24,"y":4.3},{"x":7.67,"y":6.0},{"x":8.42,"y":6.75}
]
},
"vconcat":[
{"hconcat":[
 {"width":337,"height":291,
  "title":{"text":"Exc. 785 nm","anchor":"middle","frame":"group","offset":0},
  "encoding":{
   "x":{"type":"quantitative","scale":{"domain":[310,2290],"nice":false,"zero":false},
    "axis":{"title":"Wavenumber, cm⁻¹","format":"d","labelOverlap":false,"values":[400,500,600,700,800,900,1000,1100,1200,1300,1400,1500,1600,1700,1800,1900,2000,2100,2200],"labelExpr":"datum.value % 500 === 0 ? datum.label : ''","tickWidth":{"condition":{"test":"datum.value % 500 === 0","value":1.8},"value":1.2},"tickSize":{"condition":{"test":"datum.value % 500 === 0","value":6},"value":4}}},
   "y":{"type":"quantitative","scale":{"domain":[1.27,16.35],"nice":false,"zero":false},"axis":{"title":"Intensity, arb. unit","values":[5,10,15],"tickSize":6,"tickWidth":1.6}}
  },
  "layer":[
   {"data":{"name":"A"},"mark":{"type":"line","strokeWidth":3.5,"clip":true},
    "encoding":{
     "x":{"field":"x","type":"quantitative"},
     "y":{"field":"y","type":"quantitative"},
     "color":{"field":"d","type":"ordinal","scale":{"domain":[0,4,8,12,16,20,24,28,32,36,40,44,48,52],"range":["#000080","#0000d9","#001dff","#006cff","#00baff","#1cffda","#5cff9b","#9bff5c","#daff1c","#ffce00","#ff8500","#ff3c00","#d90000","#800000"]},"legend":null}
    }},
   {"data":{"values":[{}]},"mark":{"type":"text","font":"DejaVu Sans","fontSize":62,"fontWeight":"bold","align":"right","baseline":"alphabetic","color":"black"},
    "encoding":{"x":{"datum":2200,"type":"quantitative"},"y":{"datum":13.3,"type":"quantitative"},"text":{"value":"A"}}}
  ]},
 {"width":337,"height":291,
  "title":{"text":"Exc. 671 nm","anchor":"middle","frame":"group","offset":0},
  "encoding":{
   "x":{"type":"quantitative","scale":{"domain":[2425,4075],"nice":false,"zero":false},
    "axis":{"title":"Wavenumber, cm⁻¹","format":"d","labelOverlap":false,"values":[2500,2600,2700,2800,2900,3000,3100,3200,3300,3400,3500,3600,3700,3800,3900,4000],"labelExpr":"datum.value % 500 === 0 ? datum.label : ''","tickWidth":{"condition":{"test":"datum.value % 500 === 0","value":1.8},"value":1.2},"tickSize":{"condition":{"test":"datum.value % 500 === 0","value":6},"value":4}}},
   "y":{"type":"quantitative","scale":{"domain":[-0.24,20.72],"nice":false,"zero":false},"axis":{"title":"Intensity, arb. unit","values":[0,5,10,15,20],"tickSize":6,"tickWidth":1.6}}
  },
  "layer":[
   {"data":{"name":"B"},"mark":{"type":"line","strokeWidth":3.5,"clip":true},
    "encoding":{
     "x":{"field":"x","type":"quantitative"},
     "y":{"field":"y","type":"quantitative"},
     "color":{"field":"d","type":"ordinal","scale":{"domain":[0,4,8,12,16,20,24,28,32,36,40,44,48,52],"range":["#000080","#0000d9","#001dff","#006cff","#00baff","#1cffda","#5cff9b","#9bff5c","#daff1c","#ffce00","#ff8500","#ff3c00","#d90000","#800000"]},
      "legend":{"orient":"none","legendX":378,"legendY":11,"title":"Skin depth, μm","columns":2,"symbolType":"M-1.15,0H1.15","symbolSize":1521,"symbolStrokeWidth":3.5,"labelFontSize":20,"titleFontSize":20,"titleFontWeight":"normal","titleAnchor":"middle","padding":10,"titlePadding":3,"rowPadding":0,"columnPadding":37,"labelOffset":18.5,"strokeColor":"#cccccc","fillColor":"white","cornerRadius":4}}
    }},
   {"data":{"values":[{}]},"mark":{"type":"text","font":"DejaVu Sans","fontSize":62,"fontWeight":"bold","align":"right","baseline":"alphabetic","color":"black"},
    "encoding":{"x":{"datum":3987,"type":"quantitative"},"y":{"datum":16.5,"type":"quantitative"},"text":{"value":"B"}}}
  ]}
 ],
 "spacing":97,"bounds":"flush",
 "resolve":{"scale":{"color":"independent"},"legend":{"color":"independent"}}
},
{"hconcat":[
 {"width":337,"height":291,
  "encoding":{
   "x":{"type":"quantitative","scale":{"domain":[310,2290],"nice":false,"zero":false},
    "axis":{"title":"Wavenumber, cm⁻¹","format":"d","labelOverlap":false,"values":[400,500,600,700,800,900,1000,1100,1200,1300,1400,1500,1600,1700,1800,1900,2000,2100,2200],"labelExpr":"datum.value % 500 === 0 ? datum.label : ''","tickWidth":{"condition":{"test":"datum.value % 500 === 0","value":1.8},"value":1.2},"tickSize":{"condition":{"test":"datum.value % 500 === 0","value":6},"value":4}}},
   "y":{"type":"quantitative","scale":{"domain":[7.87,14.39],"nice":false,"zero":false},"axis":{"title":"Intensity, arb. unit","values":[8,10,12,14],"tickSize":6,"tickWidth":1.6}}
  },
  "layer":[
   {"data":{"name":"Cfill"},"mark":{"type":"area","color":"#ff0000","opacity":0.5,"clip":true},
    "encoding":{"x":{"field":"x","type":"quantitative"},"y":{"field":"bg","type":"quantitative"},"y2":{"datum":7}}},
   {"data":{"name":"Cfill"},"mark":{"type":"area","color":"#0000ff","opacity":0.5,"clip":true},
    "encoding":{"x":{"field":"x","type":"quantitative"},"y":{"field":"sig","type":"quantitative"},"y2":{"field":"bg"}}},
   {"data":{"name":"C"},"mark":{"type":"line","strokeWidth":3,"clip":true},
    "encoding":{"x":{"field":"x","type":"quantitative"},"y":{"field":"y","type":"quantitative"},
     "color":{"field":"s","type":"nominal","scale":{"domain":["bg","raw"],"range":["#ff0000","#0000ff"]},
      "legend":{"title":null,"orient":"bottom-right","offset":9,"symbolType":"M-1.6,0H1.6","symbolSize":625,"symbolStrokeWidth":3,"labelFontSize":19,"labelOffset":21,"padding":7,"rowPadding":5,"strokeColor":"#cccccc","fillColor":"rgba(255,255,255,0.8)","cornerRadius":4,"labelExpr":"datum.value == 'bg' ? ['Fluorescence', 'background'] : 'Raw signal'"}},
     "strokeDash":{"field":"s","type":"nominal","scale":{"domain":["bg","raw"],"range":[[9,4],[1,0]]},
      "legend":{"title":null,"orient":"bottom-right","offset":9,"symbolType":"M-1.6,0H1.6","symbolSize":625,"symbolStrokeWidth":3,"labelFontSize":19,"labelOffset":21,"padding":7,"rowPadding":5,"strokeColor":"#cccccc","fillColor":"rgba(255,255,255,0.8)","cornerRadius":4,"labelExpr":"datum.value == 'bg' ? ['Fluorescence', 'background'] : 'Raw signal'"}}
    }},
   {"data":{"name":"Crules"},"mark":{"type":"rule","color":"black","strokeWidth":3,"strokeDash":[8,4]},
    "encoding":{"x":{"field":"x","type":"quantitative"}}},
   {"data":{"values":[{}]},"mark":{"type":"text","font":"DejaVu Sans","fontSize":62,"fontWeight":"bold","align":"right","baseline":"alphabetic","color":"black"},
    "encoding":{"x":{"datum":2178,"type":"quantitative"},"y":{"datum":13.05,"type":"quantitative"},"text":{"value":"C"}}}
  ]},
 {"width":337,"height":291,
  "encoding":{
   "x":{"type":"quantitative","scale":{"domain":[2425,4075],"nice":false,"zero":false},
    "axis":{"title":"Wavenumber, cm⁻¹","format":"d","labelOverlap":false,"values":[2500,2600,2700,2800,2900,3000,3100,3200,3300,3400,3500,3600,3700,3800,3900,4000],"labelExpr":"datum.value % 500 === 0 ? datum.label : ''","tickWidth":{"condition":{"test":"datum.value % 500 === 0","value":1.8},"value":1.2},"tickSize":{"condition":{"test":"datum.value % 500 === 0","value":6},"value":4}}},
   "y":{"type":"quantitative","scale":{"domain":[6.4,15.05],"nice":false,"zero":false},"axis":{"title":"Intensity, arb. unit","values":[8,10,12,14],"tickSize":6,"tickWidth":1.6}}
  },
  "layer":[
   {"data":{"name":"Dfill"},"mark":{"type":"area","color":"#ff0000","opacity":0.5,"clip":true},
    "encoding":{"x":{"field":"x","type":"quantitative"},"y":{"field":"bg","type":"quantitative"},"y2":{"datum":6}}},
   {"data":{"name":"Dfill"},"mark":{"type":"area","color":"#0000ff","opacity":0.5,"clip":true},
    "encoding":{"x":{"field":"x","type":"quantitative"},"y":{"field":"sig","type":"quantitative"},"y2":{"field":"bg"}}},
   {"data":{"name":"D"},"mark":{"type":"line","strokeWidth":3,"clip":true},
    "encoding":{"x":{"field":"x","type":"quantitative"},"y":{"field":"y","type":"quantitative"},
     "color":{"field":"s","type":"nominal","scale":{"domain":["bg","raw"],"range":["#ff0000","#0000ff"]},
      "legend":{"title":null,"orient":"bottom-right","offset":9,"symbolType":"M-1.6,0H1.6","symbolSize":625,"symbolStrokeWidth":3,"labelFontSize":19,"labelOffset":21,"padding":7,"rowPadding":5,"strokeColor":"#cccccc","fillColor":"rgba(255,255,255,0.8)","cornerRadius":4,"labelExpr":"datum.value == 'bg' ? ['Fluorescence', 'background'] : 'Raw signal'"}},
     "strokeDash":{"field":"s","type":"nominal","scale":{"domain":["bg","raw"],"range":[[9,4],[1,0]]},
      "legend":{"title":null,"orient":"bottom-right","offset":9,"symbolType":"M-1.6,0H1.6","symbolSize":625,"symbolStrokeWidth":3,"labelFontSize":19,"labelOffset":21,"padding":7,"rowPadding":5,"strokeColor":"#cccccc","fillColor":"rgba(255,255,255,0.8)","cornerRadius":4,"labelExpr":"datum.value == 'bg' ? ['Fluorescence', 'background'] : 'Raw signal'"}}
    }},
   {"data":{"name":"Drules"},"mark":{"type":"rule","color":"black","strokeWidth":3,"strokeDash":[8,4]},
    "encoding":{"x":{"field":"x","type":"quantitative"}}},
   {"data":{"values":[{}]},"mark":{"type":"text","font":"DejaVu Sans","fontSize":62,"fontWeight":"bold","align":"right","baseline":"alphabetic","color":"black"},
    "encoding":{"x":{"datum":4010,"type":"quantitative"},"y":{"datum":13.3,"type":"quantitative"},"text":{"value":"D"}}}
  ]},
 {"width":337,"height":291,
  "encoding":{
   "x":{"type":"quantitative","scale":{"domain":[0,25],"nice":false,"zero":false},"axis":{"title":null,"values":[0,5,10,15,20,25],"tickSize":6,"tickWidth":1.6}},
   "y":{"type":"quantitative","scale":{"domain":[0,30],"nice":false,"zero":false},"axis":{"title":null,"values":[0,5,10,15,20,25,30],"tickSize":6,"tickWidth":1.6}}
  },
  "layer":[
   {"data":{"name":"E"},"mark":{"type":"circle","size":11,"color":"#0000ff","opacity":1,"clip":true},
    "encoding":{"x":{"field":"x","type":"quantitative"},"y":{"field":"y","type":"quantitative"}}},
   {"data":{"name":"Eline"},"mark":{"type":"line","strokeWidth":3.5,"clip":true},
    "encoding":{"x":{"field":"x","type":"quantitative"},"y":{"field":"y","type":"quantitative"},
     "color":{"field":"f","type":"nominal","scale":{"domain":["fit"],"range":["#ff0000"]},
      "legend":{"title":null,"orient":"bottom-right","offset":10,"symbolType":"M-1.55,0H1.55","symbolSize":625,"symbolStrokeWidth":3.5,"labelFontSize":20,"labelOffset":20.4,"padding":8,"strokeColor":"#cccccc","fillColor":"rgba(255,255,255,0.8)","cornerRadius":4,"labelExpr":"['R² = 0.80', 'p < 10⁻⁹']"}},
     "strokeDash":{"field":"f","type":"nominal","scale":{"domain":["fit"],"range":[[11,5]]},
      "legend":{"title":null,"orient":"bottom-right","offset":10,"symbolType":"M-1.55,0H1.55","symbolSize":625,"symbolStrokeWidth":3.5,"labelFontSize":20,"labelOffset":20.4,"padding":8,"strokeColor":"#cccccc","fillColor":"rgba(255,255,255,0.8)","cornerRadius":4,"labelExpr":"['R² = 0.80', 'p < 10⁻⁹']"}}
    }},
   {"data":{"values":[{}]},"mark":{"type":"text","font":"DejaVu Sans","fontSize":62,"fontWeight":"bold","align":"right","baseline":"alphabetic","color":"black"},
    "encoding":{"x":{"datum":23.27,"type":"quantitative"},"y":{"datum":23.97,"type":"quantitative"},"text":{"value":"E"}}},
   {"data":{"values":[{}]},"mark":{"type":"text","font":"DejaVu Sans","fontSize":23.5,"align":"left","baseline":"alphabetic","color":"black","dx":-77,"dy":54},
    "encoding":{"x":{"datum":12.5,"type":"quantitative"},"y":{"datum":0,"type":"quantitative"},"text":{"value":"FI"}}},
   {"data":{"values":[{}]},"mark":{"type":"text","font":"DejaVu Sans","fontSize":16.5,"align":"left","baseline":"alphabetic","color":"black","dx":-56.5,"dy":58},
    "encoding":{"x":{"datum":12.5,"type":"quantitative"},"y":{"datum":0,"type":"quantitative"},"text":{"value":"FP"}}},
   {"data":{"values":[{}]},"mark":{"type":"text","font":"DejaVu Sans","fontSize":23.5,"align":"left","baseline":"alphabetic","color":"black","dx":-37,"dy":54},
    "encoding":{"x":{"datum":12.5,"type":"quantitative"},"y":{"datum":0,"type":"quantitative"},"text":{"value":", arb. unit"}}},
   {"data":{"values":[{}]},"mark":{"type":"text","font":"DejaVu Sans","fontSize":23.5,"align":"left","baseline":"alphabetic","color":"black","angle":270,"dx":-88,"dy":-48},
    "encoding":{"x":{"datum":0,"type":"quantitative"},"y":{"datum":15,"type":"quantitative"},"text":{"value":"FI"}}},
   {"data":{"values":[{}]},"mark":{"type":"text","font":"DejaVu Sans","fontSize":16.5,"align":"left","baseline":"alphabetic","color":"black","angle":270,"dx":-67.5,"dy":-44},
    "encoding":{"x":{"datum":0,"type":"quantitative"},"y":{"datum":15,"type":"quantitative"},"text":{"value":"HWN"}}},
   {"data":{"values":[{}]},"mark":{"type":"text","font":"DejaVu Sans","fontSize":23.5,"align":"left","baseline":"alphabetic","color":"black","angle":270,"dx":-26.5,"dy":-48},
    "encoding":{"x":{"datum":0,"type":"quantitative"},"y":{"datum":15,"type":"quantitative"},"text":{"value":", arb. unit"}}}
  ]}
 ],
 "spacing":97,"bounds":"flush",
 "resolve":{"scale":{"color":"independent","strokeDash":"independent"},"legend":{"color":"independent","strokeDash":"independent"}}
}
],
"spacing":7,
"resolve":{"scale":{"color":"independent","strokeDash":"independent"},"legend":{"color":"independent","strokeDash":"independent"}}
}
